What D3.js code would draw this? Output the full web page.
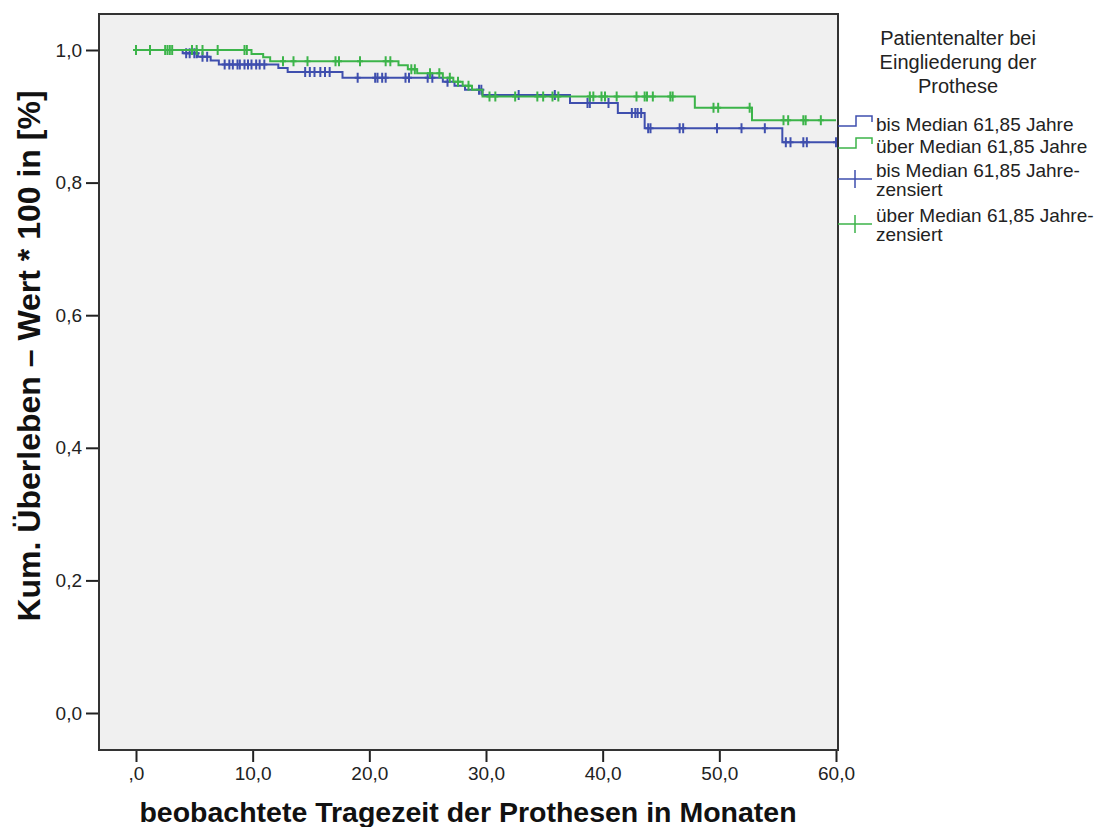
<!DOCTYPE html>
<html>
<head>
<meta charset="utf-8">
<script src="https://cdn.jsdelivr.net/npm/d3@7/dist/d3.min.js"></script>
<style>
  body { margin: 0; background: #fff; }
  svg { display: block; font-family: Arial, "Liberation Sans", sans-serif; }
</style>
</head>
<body>
<svg id="chart" width="1107" height="827"></svg>
<script>
// Kaplan-Meier step data: event times (months) and survival after each step
const groupNames = ["bis Median 61,85 Jahre", "über Median 61,85 Jahre"];
const groupColors = ["#3f4fae", "#3cb44a"];

const blueStepTimes = [0, 4.0, 5.3, 6.4, 7.1, 12.2, 13.0, 17.7, 26.3, 27.3, 28.2, 29.7, 37.2, 41.3, 43.6, 55.4];
const blueStepSurv  = [1.0, 0.995, 0.990, 0.984, 0.978, 0.973, 0.967, 0.958, 0.952, 0.946, 0.940, 0.932, 0.920, 0.905, 0.882, 0.861];
const blueCensored  = [4.3, 4.6, 5.0, 5.2, 5.7, 6.1, 7.6, 8.0, 8.3, 8.7, 8.9, 9.3, 9.6, 9.9, 10.3, 10.6, 11.0,
                       14.5, 14.9, 15.3, 15.8, 16.2, 16.6, 19.0, 20.5, 20.7, 21.1, 21.4, 23.1, 23.4, 25.0, 25.4,
                       26.7, 29.4, 29.6, 32.8, 35.9, 38.7, 38.9, 40.5, 42.5, 42.8, 43.0, 43.3,
                       43.9, 44.1, 46.6, 46.9, 49.8, 51.9, 53.9, 55.7, 56.1, 57.2, 57.5, 60.0];

const greenStepTimes = [0, 9.9, 10.9, 11.5, 22.5, 23.3, 24.1, 26.3, 27.2, 28.0, 28.8, 29.7, 47.9, 52.8];
const greenStepSurv  = [1.0, 0.994, 0.989, 0.983, 0.977, 0.971, 0.965, 0.958, 0.952, 0.946, 0.940, 0.930, 0.913, 0.894];
const greenCensored  = [0, 1.2, 2.5, 2.7, 2.9, 3.1, 4.8, 5.2, 5.7, 7.0, 9.3, 9.5,
                        12.6, 13.5, 14.7, 17.1, 17.4, 19.2, 21.4, 21.8, 23.6, 23.9, 25.2, 26.0, 26.9, 27.6, 28.5,
                        30.3, 30.8, 32.5, 34.4, 34.9, 35.7, 36.2, 38.9, 39.2, 39.9, 40.2, 41.2,
                        42.9, 43.6, 43.8, 44.3, 45.8, 46.0, 49.5, 49.9, 52.6, 55.5, 55.9, 57.2, 57.4, 58.7];
const followUpEnd = 60;

const xTickValues = [0, 10, 20, 30, 40, 50, 60];
const xTickLabels = [",0", "10,0", "20,0", "30,0", "40,0", "50,0", "60,0"];
const yTickValues = [0, 0.2, 0.4, 0.6, 0.8, 1.0];
const yTickLabels = ["0,0", "0,2", "0,4", "0,6", "0,8", "1,0"];

const xTitle = "beobachtete Tragezeit der Prothesen in Monaten";
const yTitle = "Kum. Überleben – Wert * 100 in [%]";
const legendTitle = ["Patientenalter bei", "Eingliederung der", "Prothese"];
const legendCensorLabel = ["bis Median 61,85 Jahre-", "über Median 61,85 Jahre-"];

const svg = d3.select("#chart");

// plot frame
const frame = { left: 99, right: 838, top: 14, bottom: 750 };
const x = d3.scaleLinear().domain([0, 60]).range([136, 836]);
const y = d3.scaleLinear().domain([0, 1]).range([713, 50]);

svg.append("rect")
  .attr("x", frame.left).attr("y", frame.top)
  .attr("width", frame.right - frame.left).attr("height", frame.bottom - frame.top)
  .attr("fill", "#f0f0f0");

// axes
const xAxis = d3.axisBottom(x).tickValues(xTickValues)
  .tickFormat((d, i) => xTickLabels[i]).tickSize(12).tickPadding(5);
const yAxis = d3.axisLeft(y).tickValues(yTickValues)
  .tickFormat((d, i) => yTickLabels[i]).tickSize(13).tickPadding(4);

const gx = svg.append("g").attr("transform", `translate(0,${frame.bottom})`).call(xAxis);
const gy = svg.append("g").attr("transform", `translate(${frame.left},0)`).call(yAxis);
[gx, gy].forEach(g => {
  g.select(".domain").remove();
  g.selectAll(".tick line").attr("stroke", "#222").attr("stroke-width", 2);
  g.selectAll(".tick text").attr("fill", "#222").style("font-size", "19px")
    .style("font-family", "Arial, 'Liberation Sans', sans-serif");
});

// survival curves
function stepPath(times, surv, end) {
  const pts = [];
  times.forEach((t, i) => {
    if (i > 0) pts.push([t, surv[i - 1]]);
    pts.push([t, surv[i]]);
  });
  pts.push([end, surv[surv.length - 1]]);
  return d3.line().x(d => x(d[0])).y(d => y(d[1]))(pts);
}
function survAt(times, surv, t) {
  let s = surv[0];
  times.forEach((tt, i) => { if (tt <= t) s = surv[i]; });
  return s;
}

const groups = [
  { times: blueStepTimes, surv: blueStepSurv, cens: blueCensored, color: groupColors[0] },
  { times: greenStepTimes, surv: greenStepSurv, cens: greenCensored, color: groupColors[1] }
];

groups.forEach(g => {
  svg.append("path")
    .attr("d", stepPath(g.times, g.surv, followUpEnd))
    .attr("fill", "none").attr("stroke", g.color).attr("stroke-width", 2);
  svg.append("g").selectAll("path").data(g.cens).join("path")
    .attr("d", t => {
      const cx = x(t), cy = y(survAt(g.times, g.surv, t));
      return `M${cx},${cy - 5}V${cy + 5}M${cx - 3},${cy}H${cx + 3}`;
    })
    .attr("stroke", g.color).attr("stroke-width", 2).attr("fill", "none");
});

// frame border
svg.append("rect")
  .attr("x", frame.left).attr("y", frame.top)
  .attr("width", frame.right - frame.left).attr("height", frame.bottom - frame.top)
  .attr("fill", "none").attr("stroke", "#333").attr("stroke-width", 2);

// axis titles
svg.append("text")
  .attr("x", 468).attr("y", 822).attr("text-anchor", "middle")
  .style("font-size", "28.5px").style("font-weight", "bold").attr("fill", "#111")
  .text(xTitle);
svg.append("text")
  .attr("transform", "translate(40,356) rotate(-90)").attr("text-anchor", "middle")
  .style("font-size", "32px").style("font-weight", "bold").attr("fill", "#111")
  .text(yTitle);

// legend
const lg = svg.append("g");
lg.selectAll("text.title").data(legendTitle).join("text")
  .attr("class", "title")
  .attr("x", 958).attr("y", (d, i) => 45 + i * 24).attr("text-anchor", "middle")
  .style("font-size", "20px").attr("fill", "#222").text(d => d);

const itemFont = "19px";
groups.forEach((g, i) => {
  const yl = 126 + i * 22;
  lg.append("path")
    .attr("d", `M838,${yl}H856V${yl - 10}H872V${yl - 4}`)
    .attr("fill", "none").attr("stroke", g.color).attr("stroke-width", 1.5);
  lg.append("text").attr("x", 876).attr("y", yl + 5).style("font-size", itemFont)
    .attr("fill", "#222").text(groupNames[i]);
});
groups.forEach((g, i) => {
  const yc = 179 + i * 45;
  lg.append("path")
    .attr("d", `M838,${yc}H872M855,${yc - 9}V${yc + 9}`)
    .attr("fill", "none").attr("stroke", g.color).attr("stroke-width", 1.5);
  lg.append("text").attr("x", 876).attr("y", yc - 2).style("font-size", itemFont)
    .attr("fill", "#222").text(legendCensorLabel[i]);
  lg.append("text").attr("x", 876).attr("y", yc + 17).style("font-size", itemFont)
    .attr("fill", "#222").text("zensiert");
});
</script>
</body>
</html>
